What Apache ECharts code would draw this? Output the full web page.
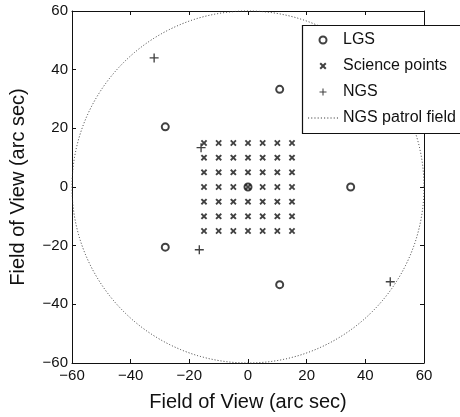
<!DOCTYPE html>
<html>
<head>
<meta charset="utf-8">
<script src="https://cdn.jsdelivr.net/npm/echarts@6/dist/echarts.min.js"></script>
<style>
  html, body { margin: 0; padding: 0; background: #fff; }
  #chart { width: 460px; height: 417px; }
</style>
</head>
<body>
<div id="chart"></div>
<script>
// LGS positions (arc sec)
const lgsPoints = [
  [0, 0], [35, 0], [10.8, 33.3], [-28.2, 20.5], [-28.2, -20.5], [10.8, -33.3]
]
// science grid
const sciX = [-15, -10, -5, 0, 5, 10, 15]
const sciY = [-15, -10, -5, 0, 5, 10, 15]
// NGS positions
const ngsPoints = [
  [-32, 44], [-16, 13.4], [-16.6, -21.4], [48.5, -32.3]
]
// patrol field: [centerX, centerY, radius]
const patrolField = [[0, 0, 60]]
const axisTicks = [-60, -40, -20, 0, 20, 40, 60]
const axisTitle = 'Field of View (arc sec)'
const legendNames = ['LGS', 'Science points', 'NGS', 'NGS patrol field']

const sciPoints = []
sciY.forEach(y => {
  sciX.forEach(x => { sciPoints.push([x, y]) })
})

const font = "'Liberation Sans', Arial, sans-serif"
const ink = '#111'
const crossPath = 'path://M0,2L2,0L5,3L8,0L10,2L7,5L10,8L8,10L5,7L2,10L0,8L3,5Z'
const plusPath = 'path://M4.25,0h1.5v4.25h4.25v1.5h-4.25v4.25h-1.5v-4.25h-4.25v-1.5h4.25z'
let dots = ''
for (let i = 0; i < 10; i++) { dots += 'M' + (i * 3) + ',0h1v1h-1z' }
const dotLinePath = 'path://' + dots

const fmt = v => String(v).replace('-', '\u2212')

const baseAxis = {
  type: 'value',
  min: axisTicks[0],
  max: axisTicks[axisTicks.length - 1],
  interval: 20,
  splitLine: { show: false },
  axisLine: { show: true, onZero: false, lineStyle: { color: ink, width: 1 } },
  axisTick: { show: true, inside: true, length: 4, lineStyle: { color: ink } }
}

const chart = echarts.init(document.getElementById('chart'))
chart.setOption({
  animation: false,
  backgroundColor: '#fff',
  textStyle: { fontFamily: font },
  grid: { left: 63, top: 11, width: 361, height: 361 },
  // legend frame runs off the right edge, as in the source figure
  graphic: [{
    type: 'rect',
    z: 100,
    silent: true,
    shape: { x: 302.5, y: 25.5, width: 200, height: 108 },
    style: { fill: 'none', stroke: ink, lineWidth: 1.2 }
  }],
  legend: {
    orient: 'vertical',
    left: 302,
    top: 25,
    padding: [7, 10, 7, 6],
    itemWidth: 30,
    itemHeight: 7,
    itemGap: 10,
    backgroundColor: '#fff',
    borderWidth: 0,
    textStyle: { fontSize: 16, color: ink, fontFamily: font },
    data: [
      { name: legendNames[0] },
      { name: legendNames[1] },
      { name: legendNames[2] },
      { name: legendNames[3], icon: dotLinePath }
    ]
  },
  xAxis: [
    Object.assign({}, baseAxis, {
      position: 'bottom',
      name: axisTitle,
      nameLocation: 'middle',
      nameGap: 29,
      nameTextStyle: { fontSize: 20, color: ink, fontFamily: font },
      axisLabel: { fontSize: 15, color: ink, margin: 5, formatter: fmt }
    }),
    Object.assign({}, baseAxis, {
      position: 'top',
      axisLabel: { show: false }
    })
  ],
  yAxis: [
    Object.assign({}, baseAxis, {
      position: 'left',
      name: axisTitle,
      nameLocation: 'middle',
      nameGap: 44,
      nameTextStyle: { fontSize: 20, color: ink, fontFamily: font },
      axisLabel: { fontSize: 15, color: ink, margin: 4, formatter: fmt }
    }),
    Object.assign({}, baseAxis, {
      position: 'right',
      axisLabel: { show: false }
    })
  ],
  series: [
    {
      name: legendNames[3],
      type: 'custom',
      clip: false,
      silent: true,
      itemStyle: { color: '#333' },
      data: patrolField,
      renderItem(params, api) {
        const c = api.coord([api.value(0), api.value(1)])
        const s = api.size([api.value(2), api.value(2)])
        return {
          type: 'circle',
          shape: { cx: c[0], cy: c[1], r: s[0] },
          style: { fill: 'none', stroke: '#333', lineWidth: 1, lineDash: [1, 2] }
        }
      }
    },
    {
      name: legendNames[0],
      type: 'scatter',
      symbol: 'emptyCircle',
      symbolSize: 7,
      itemStyle: { color: ink, borderWidth: 1.8 },
      data: lgsPoints
    },
    {
      name: legendNames[1],
      type: 'scatter',
      symbol: crossPath,
      symbolSize: 6.5,
      itemStyle: { color: ink },
      data: sciPoints
    },
    {
      name: legendNames[2],
      type: 'scatter',
      symbol: plusPath,
      symbolSize: 9,
      itemStyle: { color: ink },
      data: ngsPoints
    }
  ]
})
</script>
</body>
</html>
